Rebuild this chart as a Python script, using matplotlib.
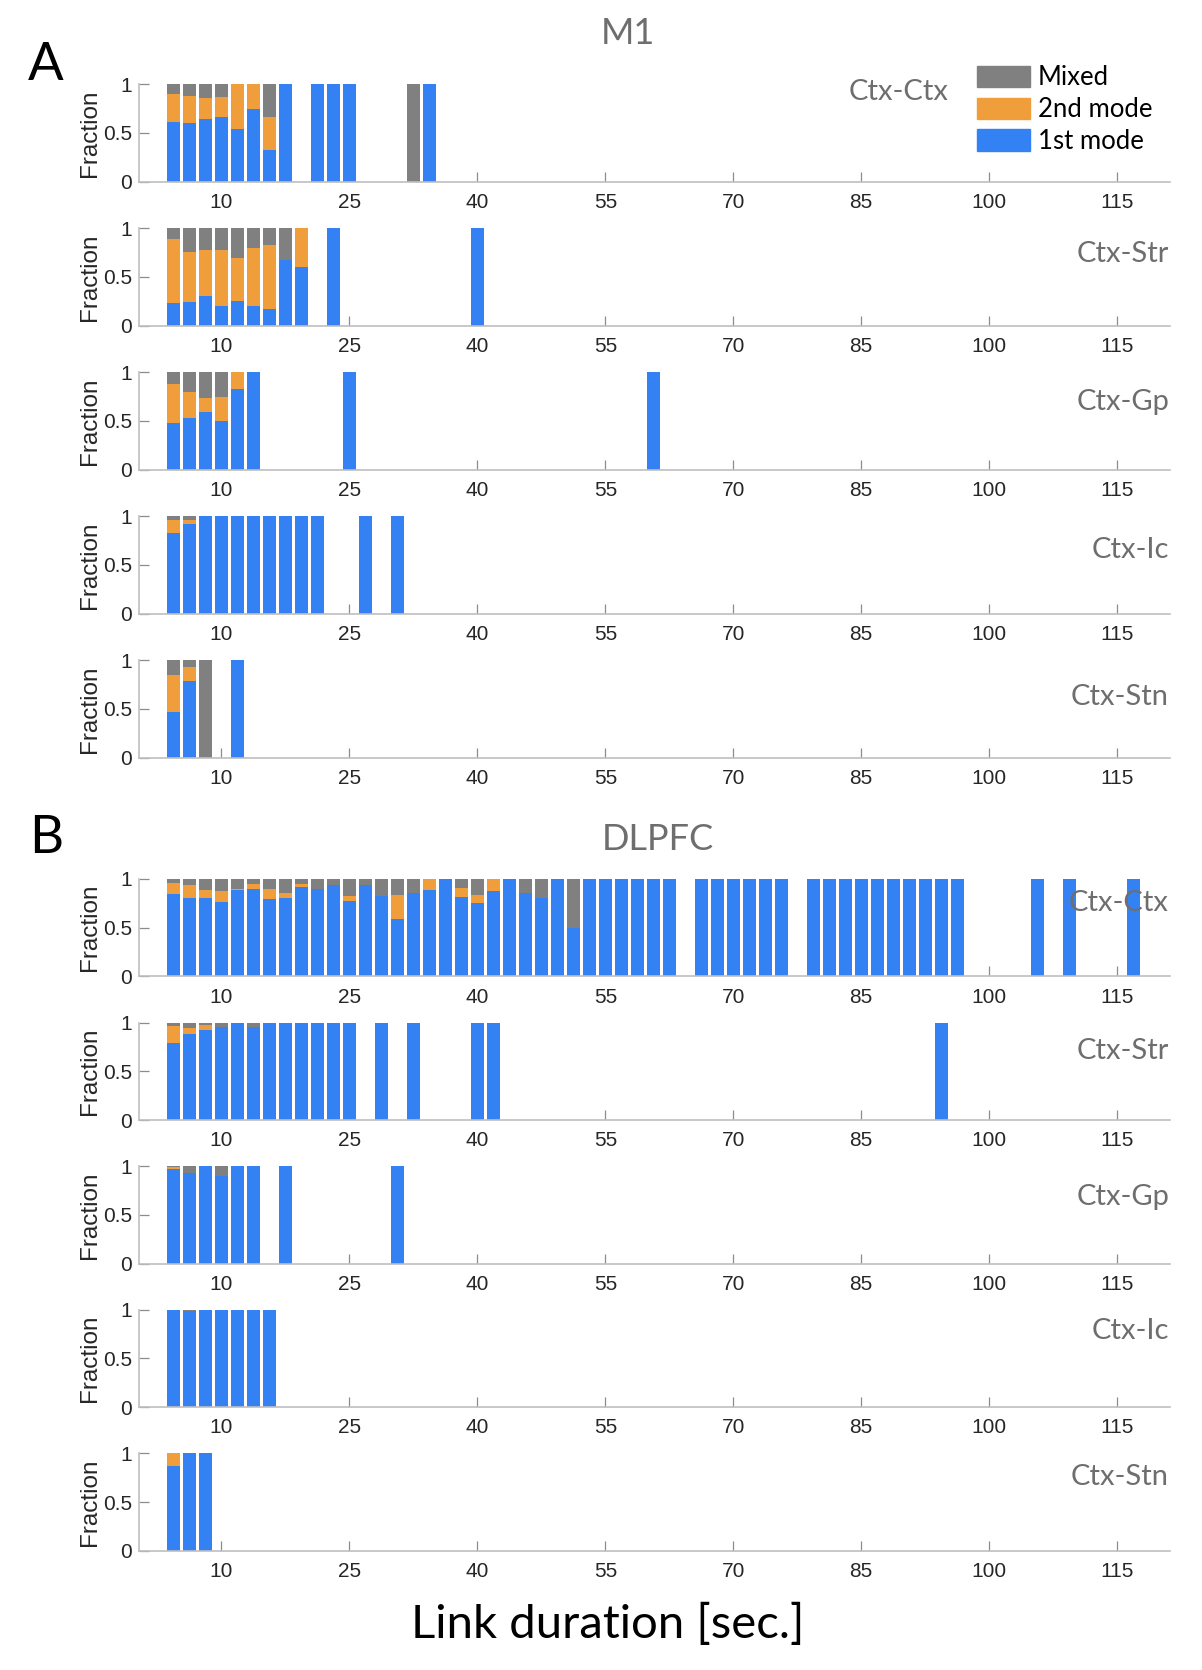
import matplotlib.pyplot as plt
from matplotlib.patches import Patch

# bin k sits at BIN0 + BIN_W * k seconds
BIN0 = 4.375
BIN_W = 1.875
TICKS = [10, 25, 40, 55, 70, 85, 100, 115]

BLUE = '#3381f3'
ORANGE = '#f09d3c'
GREY = '#808080'

# ---- M1 ----
m1_ctx_ctx_bins = [0, 1, 2, 3, 4, 5, 6, 7, 9, 10, 11, 15, 16]
m1_ctx_ctx_first = [0.61, 0.60, 0.64, 0.66, 0.54, 0.75, 0.33, 1, 1, 1, 1, 0, 1]
m1_ctx_ctx_second = [0.29, 0.28, 0.22, 0.21, 0.46, 0.25, 0.33, 0, 0, 0, 0, 0, 0]
m1_ctx_ctx_mixed = [0.10, 0.12, 0.14, 0.13, 0, 0, 0.34, 0, 0, 0, 0, 1, 0]

m1_ctx_str_bins = [0, 1, 2, 3, 4, 5, 6, 7, 8, 10, 19]
m1_ctx_str_first = [0.23, 0.24, 0.30, 0.20, 0.25, 0.20, 0.17, 0.67, 0.60, 1, 1]
m1_ctx_str_second = [0.66, 0.52, 0.48, 0.58, 0.44, 0.60, 0.66, 0, 0.40, 0, 0]
m1_ctx_str_mixed = [0.11, 0.24, 0.22, 0.22, 0.31, 0.20, 0.17, 0.33, 0, 0, 0]

m1_ctx_gp_bins = [0, 1, 2, 3, 4, 5, 11, 30]
m1_ctx_gp_first = [0.48, 0.53, 0.59, 0.50, 0.83, 1, 1, 1]
m1_ctx_gp_second = [0.40, 0.27, 0.15, 0.25, 0.17, 0, 0, 0]
m1_ctx_gp_mixed = [0.12, 0.20, 0.26, 0.25, 0, 0, 0, 0]

m1_ctx_ic_bins = [0, 1, 2, 3, 4, 5, 6, 7, 8, 9, 12, 14]
m1_ctx_ic_first = [0.83, 0.92, 1, 1, 1, 1, 1, 1, 1, 1, 1, 1]
m1_ctx_ic_second = [0.13, 0.04, 0, 0, 0, 0, 0, 0, 0, 0, 0, 0]
m1_ctx_ic_mixed = [0.04, 0.04, 0, 0, 0, 0, 0, 0, 0, 0, 0, 0]

m1_ctx_stn_bins = [0, 1, 2, 4]
m1_ctx_stn_first = [0.47, 0.79, 0, 1]
m1_ctx_stn_second = [0.38, 0.14, 0, 0]
m1_ctx_stn_mixed = [0.15, 0.07, 1, 0]

# ---- DLPFC ----
dl_ctx_ctx_bins = list(range(0, 32)) + list(range(33, 39)) + list(range(40, 50)) + [54, 56, 60]
dl_ctx_ctx_first = [0.85, 0.81, 0.81, 0.76, 0.89, 0.90, 0.79, 0.81, 0.92, 0.90,
                    0.94, 0.77, 0.94, 0.83, 0.59, 0.86, 0.89, 1, 0.82, 0.75,
                    0.88, 1, 0.86, 0.81, 1, 0.50, 1, 1, 1, 1,
                    1, 1,
                    1, 1, 1, 1, 1, 1,
                    1, 1, 1, 1, 1, 1, 1, 1, 1, 1,
                    1, 1, 1]
dl_ctx_ctx_second = [0.11, 0.13, 0.08, 0.12, 0.01, 0.045, 0.11, 0.05, 0.03, 0,
                     0, 0.06, 0, 0, 0.25, 0, 0.11, 0, 0.09, 0.09,
                     0.12, 0, 0, 0, 0, 0, 0, 0, 0, 0,
                     0, 0,
                     0, 0, 0, 0, 0, 0,
                     0, 0, 0, 0, 0, 0, 0, 0, 0, 0,
                     0, 0, 0]
dl_ctx_ctx_mixed = [0.04, 0.06, 0.11, 0.12, 0.10, 0.055, 0.10, 0.14, 0.05, 0.10,
                    0.06, 0.17, 0.06, 0.17, 0.16, 0.14, 0, 0, 0.09, 0.16,
                    0, 0, 0.14, 0.19, 0, 0.50, 0, 0, 0, 0,
                    0, 0,
                    0, 0, 0, 0, 0, 0,
                    0, 0, 0, 0, 0, 0, 0, 0, 0, 0,
                    0, 0, 0]

dl_ctx_str_bins = [0, 1, 2, 3, 4, 5, 6, 7, 8, 9, 10, 11, 13, 15, 19, 20, 48]
dl_ctx_str_first = [0.79, 0.88, 0.92, 0.955, 1, 0.95, 1, 1, 1, 1, 1, 1, 1, 1, 1, 1, 1]
dl_ctx_str_second = [0.175, 0.06, 0.06, 0, 0, 0, 0, 0, 0, 0, 0, 0, 0, 0, 0, 0, 0]
dl_ctx_str_mixed = [0.035, 0.06, 0.02, 0.045, 0, 0.05, 0, 0, 0, 0, 0, 0, 0, 0, 0, 0, 0]

dl_ctx_gp_bins = [0, 1, 2, 3, 4, 5, 7, 14]
dl_ctx_gp_first = [0.97, 0.93, 1, 0.90, 1, 1, 1, 1]
dl_ctx_gp_second = [0.02, 0, 0, 0, 0, 0, 0, 0]
dl_ctx_gp_mixed = [0.01, 0.07, 0, 0.10, 0, 0, 0, 0]

dl_ctx_ic_bins = [0, 1, 2, 3, 4, 5, 6]
dl_ctx_ic_first = [1, 0.985, 1, 1, 1, 1, 1]
dl_ctx_ic_second = [0, 0, 0, 0, 0, 0, 0]
dl_ctx_ic_mixed = [0, 0.015, 0, 0, 0, 0, 0]

dl_ctx_stn_bins = [0, 1, 2]
dl_ctx_stn_first = [0.87, 1, 1]
dl_ctx_stn_second = [0.13, 0, 0]
dl_ctx_stn_mixed = [0, 0, 0]

m1_panels = [
    ('Ctx-Ctx', m1_ctx_ctx_bins, m1_ctx_ctx_first, m1_ctx_ctx_second, m1_ctx_ctx_mixed),
    ('Ctx-Str', m1_ctx_str_bins, m1_ctx_str_first, m1_ctx_str_second, m1_ctx_str_mixed),
    ('Ctx-Gp', m1_ctx_gp_bins, m1_ctx_gp_first, m1_ctx_gp_second, m1_ctx_gp_mixed),
    ('Ctx-Ic', m1_ctx_ic_bins, m1_ctx_ic_first, m1_ctx_ic_second, m1_ctx_ic_mixed),
    ('Ctx-Stn', m1_ctx_stn_bins, m1_ctx_stn_first, m1_ctx_stn_second, m1_ctx_stn_mixed),
]
dl_panels = [
    ('Ctx-Ctx', dl_ctx_ctx_bins, dl_ctx_ctx_first, dl_ctx_ctx_second, dl_ctx_ctx_mixed),
    ('Ctx-Str', dl_ctx_str_bins, dl_ctx_str_first, dl_ctx_str_second, dl_ctx_str_mixed),
    ('Ctx-Gp', dl_ctx_gp_bins, dl_ctx_gp_first, dl_ctx_gp_second, dl_ctx_gp_mixed),
    ('Ctx-Ic', dl_ctx_ic_bins, dl_ctx_ic_first, dl_ctx_ic_second, dl_ctx_ic_mixed),
    ('Ctx-Stn', dl_ctx_stn_bins, dl_ctx_stn_first, dl_ctx_stn_second, dl_ctx_stn_mixed),
]

W, H = 1202, 1670
fig = plt.figure(figsize=(W / 100, H / 100), dpi=100)

TICK_FONT = 'Liberation Sans'
LABEL_FONT = 'Lato'
AX_L, AX_R, AX_H = 138.7, 1170, 97.4

# label position (x right edge in px, y offset below axes top in px)
m1_label_pos = [(948, 8), (1169, 26), (1169, 30), (1169, 34), (1169, 37)]
dl_label_pos = [(1169, 24), (1169, 28), (1169, 31), (1169, 21), (1169, 24)]


def draw_panel(top_px, name, bins, first, second, mixed, label_xy):
    ax = fig.add_axes([AX_L / W, 1 - (top_px + AX_H) / H, (AX_R - AX_L) / W, AX_H / H])
    xs = [BIN0 + BIN_W * k for k in bins]
    bw = 0.8 * BIN_W
    ax.bar(xs, first, width=bw, color=BLUE, zorder=2)
    ax.bar(xs, second, width=bw, bottom=first, color=ORANGE, zorder=2)
    base = [a + b for a, b in zip(first, second)]
    ax.bar(xs, mixed, width=bw, bottom=base, color=GREY, zorder=2)
    ax.set_xlim(0.3, 121.2)
    ax.set_ylim(0, 1)
    ax.set_xticks(TICKS)
    ax.set_xticklabels([str(t) for t in TICKS], fontsize=15, family=TICK_FONT, color='#262626')
    ax.set_yticks([0, 0.5, 1])
    ax.set_yticklabels(['0', '0.5', '1'], fontsize=15, family=TICK_FONT, color='#262626')
    ax.tick_params(direction='in', length=7, width=0.9, color='#8c8c8c')
    ax.tick_params(axis='x', pad=8)
    ax.tick_params(axis='y', pad=5)
    for s in ['top', 'right']:
        ax.spines[s].set_visible(False)
    for s in ['left', 'bottom']:
        ax.spines[s].set_color('#bfbfbf')
        ax.spines[s].set_linewidth(1.2)
    ax.set_ylabel('Fraction', fontsize=17.5, family=TICK_FONT, color='#262626')
    ax.yaxis.set_label_coords(-0.037, 0.5)
    lx, ly = label_xy
    fig.text(lx / W, 1 - (top_px + ly) / H, name, ha='right', va='center',
             fontsize=21, family=LABEL_FONT, color='#6e6e6e')
    return ax


for i, (name, b, f, s, m) in enumerate(m1_panels):
    draw_panel(84.3 + 144 * i, name, b, f, s, m, m1_label_pos[i])

for i, (name, b, f, s, m) in enumerate(dl_panels):
    draw_panel(879 + 143.6 * i, name, b, f, s, m, dl_label_pos[i])

handles = [Patch(color=GREY), Patch(color=ORANGE), Patch(color=BLUE)]
fig.legend(handles, ['Mixed', '2nd mode', '1st mode'], loc='upper left',
           bbox_to_anchor=(954 / W, 1 - 42 / H), frameon=False,
           prop={'family': LABEL_FONT, 'size': 18.5}, handlelength=2.05,
           handleheight=0.9, labelspacing=0.27, handletextpad=0.3)

fig.text(46 / W, 1 - 66 / H, 'A', ha='center', va='center', fontsize=38, family=LABEL_FONT)
fig.text(46 / W, 1 - 838 / H, 'B', ha='center', va='center', fontsize=38, family=LABEL_FONT)
fig.text(628 / W, 1 - 34 / H, 'M1', ha='center', va='center', fontsize=26,
         family=LABEL_FONT, color='#6e6e6e')
fig.text(658 / W, 1 - 840 / H, 'DLPFC', ha='center', va='center', fontsize=26,
         family=LABEL_FONT, color='#6e6e6e')
fig.text(608 / W, 1 - 1624 / H, 'Link duration [sec.]', ha='center', va='center',
         fontsize=34, family=LABEL_FONT, color='black')

fig.savefig('out.png', dpi=100)
